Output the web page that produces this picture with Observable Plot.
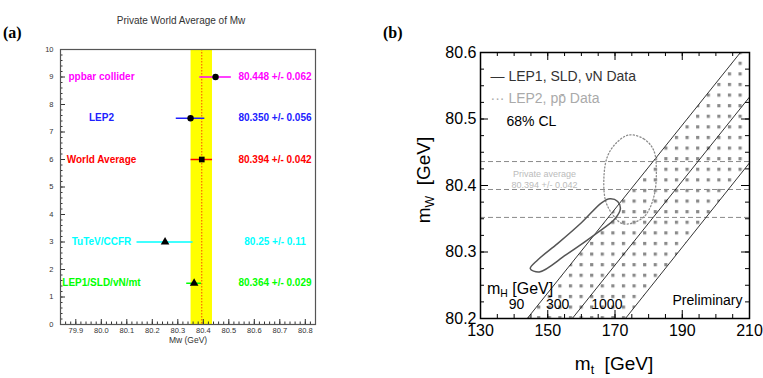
<!DOCTYPE html>
<html><head><meta charset="utf-8">
<script src="https://cdn.jsdelivr.net/npm/d3@7"></script>
<script src="https://cdn.jsdelivr.net/npm/@observablehq/plot@0.6"></script>
<style>
body{margin:0;background:#fff;}
#wrap{position:relative;width:763px;height:378px;overflow:hidden;font-family:"Liberation Sans",Arial,sans-serif;}
#wrap svg{position:absolute;top:0;}
.abs{position:absolute;white-space:nowrap;line-height:1;}
.pl{font-family:"Liberation Serif","Times New Roman",serif;font-weight:bold;font-size:16px;color:#000;}
.sub{font-size:0.65em;position:relative;top:0.3em;}
</style></head><body><div id="wrap"></div>
<script>
// ---------------- Panel (a): Private World Average of Mw ----------------
const aNames   = ["ppbar collider", "LEP2", "World Average", "TuTeV/CCFR", "LEP1/SLD/vN/mt"];
const aRows    = [9, 7.5, 6, 3, 1.5];
const aMw      = [80.448, 80.350, 80.394, 80.25, 80.364];
const aErr     = [0.062, 0.056, 0.042, 0.11, 0.029];
const aValText = ["80.448 +/- 0.062", "80.350 +/- 0.056", "80.394 +/- 0.042", "80.25 +/- 0.11", "80.364 +/- 0.029"];
const aColors  = ["#ff00ff", "#2020ff", "#ff0000", "#00ffff", "#00ff00"];
const aSymbols = ["circle", "circle", "square", "triangle", "triangle"];
const avgMw = 80.394, avgErr = 0.042;
const aTicksX = [79.9, 80, 80.1, 80.2, 80.3, 80.4, 80.5, 80.6, 80.7, 80.8];
const aTicksY = [0, 1, 2, 3, 4, 5, 6, 7, 8, 9, 10];

// ---------------- Panel (b): mW vs mt ----------------
const higgsLabels = ["90", "300", "1000"];
const higgsMt1 = [143.9, 157.3, 173.1];
const higgsMw1 = [80.2, 80.2, 80.2];
const higgsMt2 = [207.3, 210, 210];
const higgsMw2 = [80.6, 80.533, 80.434];
// SM band (mH 90..1000) corners inside the frame
const bandMt = [143.9, 207.3, 210, 210, 173.1];
const bandMw = [80.2, 80.6, 80.6, 80.434, 80.2];
// LEP1, SLD, vN 68% CL contour (solid)
const solidMt = [144.8, 147.5, 155.5, 164.5, 170.0, 171.6, 170.8, 168.5, 166.0, 160.0, 153.0, 147.0];
const solidMw = [80.275, 80.270, 80.296, 80.328, 80.350, 80.365, 80.376, 80.380, 80.374, 80.344, 80.313, 80.288];
// LEP2, ppbar 68% CL contour (dotted)
const dotMt = [174.1, 178.6, 181.5, 182.3, 181.5, 179.0, 175.5, 172.0, 169.2, 167.2, 166.7, 167.7, 170.2];
const dotMw = [80.476, 80.470, 80.453, 80.420, 80.382, 80.355, 80.344, 80.343, 80.357, 80.377, 80.412, 80.443, 80.463];
// Private average lines
const avgLines = [80.436, 80.394, 80.352];
const bTicksX = [130, 150, 170, 190, 210];
const bTicksY = [80.2, 80.3, 80.4, 80.5, 80.6];

const wrap = document.getElementById("wrap");
const font = "Liberation Sans, Arial, sans-serif";

// inward tick helpers (frame-relative insets)
function ticksBottom(vals, len, fh, color) { return Plot.ruleX(vals, {x: d => d, insetTop: fh - len, stroke: color, strokeWidth: 1}); }
function ticksTop(vals, len, fh, color) { return Plot.ruleX(vals, {x: d => d, insetBottom: fh - len, stroke: color, strokeWidth: 1}); }
function ticksLeft(vals, len, fw, color) { return Plot.ruleY(vals, {y: d => d, insetRight: fw - len, stroke: color, strokeWidth: 1}); }
function ticksRight(vals, len, fw, color) { return Plot.ruleY(vals, {y: d => d, insetLeft: fw - len, stroke: color, strokeWidth: 1}); }

// ---- build panel (a)
const aData = aNames.map((name, i) => ({name, row: aRows[i], mw: aMw[i], err: aErr[i], val: aValText[i], color: aColors[i], symbol: aSymbols[i]}));
const aMinorX = d3.range(79.84, 80.841, 0.02).map(v => +v.toFixed(2));
const aMinorY = d3.range(0, 10.001, 0.2).map(v => +v.toFixed(1));
const aFW = 255, aFH = 275;

const plotA = Plot.plot({
  width: 380, height: 378,
  marginLeft: 60, marginRight: 65, marginTop: 49, marginBottom: 54,
  x: {domain: [79.84, 80.84]},
  y: {domain: [0, 10]},
  color: {type: "identity"},
  style: {fontFamily: font, background: "transparent", overflow: "visible"},
  marks: [
    Plot.rect([{mw: avgMw, err: avgErr}], {x1: d => d.mw - d.err, x2: d => d.mw + d.err, fill: "#ffff00"}),
    Plot.ruleX([avgMw], {stroke: "#ff3300", strokeDasharray: "1.5,1.5", strokeWidth: 0.9}),
    Plot.ruleY(aData, {y: "row", x1: d => d.mw - d.err, x2: d => d.mw + d.err, stroke: "color", strokeWidth: 1.5}),
    Plot.dot(aData, {x: "mw", y: "row", symbol: "symbol", fill: "#000", stroke: "none", r: 3.2}),
    Plot.text(aData, {y: "row", text: "name", fill: "color", frameAnchor: "left", textAnchor: "middle", dx: 41, fontWeight: "bold", fontSize: 10}),
    Plot.text(aData, {y: "row", text: "val", fill: "color", frameAnchor: "right", textAnchor: "middle", dx: -40.5, fontWeight: "bold", fontSize: 10}),
    Plot.axisX({ticks: aTicksX, tickSize: 0, tickPadding: 3, fontSize: 7.5, fill: "#333", label: null}),
    Plot.axisY({ticks: aTicksY, tickSize: 0, tickPadding: 7, fontSize: 7.5, fill: "#333", label: null}),
    ticksBottom(aMinorX, 2.5, aFH, "#333"),
    ticksBottom(aTicksX, 5, aFH, "#333"),
    ticksLeft(aMinorY, 2.5, aFW, "#333"),
    ticksLeft(aTicksY, 5, aFW, "#333"),
    Plot.text(["Mw (GeV)"], {text: d => d, frameAnchor: "bottom", dy: 18, fontSize: 8.5, fill: "#333"}),
    Plot.frame({stroke: "#555", strokeWidth: 1.2})
  ]
});
plotA.style.left = "0px";
wrap.appendChild(plotA);

// ---- build panel (b)
const higgs = higgsLabels.map((label, i) => ({label, mt1: higgsMt1[i], mw1: higgsMw1[i], mt2: higgsMt2[i], mw2: higgsMw2[i]}));
const band = bandMt.map((mt, i) => ({mt, mw: bandMw[i]}));
const solid = solidMt.map((mt, i) => ({mt, mw: solidMw[i]}));
const dotted = dotMt.map((mt, i) => ({mt, mw: dotMw[i]}));
const bMinorX = d3.range(130, 210.1, 5);
const bMinorY = d3.range(80.2, 80.601, 0.025).map(v => +v.toFixed(3));
const bFW = 269, bFH = 266;

const plotB = Plot.plot({
  width: 383, height: 378,
  marginLeft: 100, marginRight: 14, marginTop: 52, marginBottom: 60,
  x: {domain: [130, 210]},
  y: {domain: [80.2, 80.6]},
  style: {fontFamily: font, background: "transparent", overflow: "visible"},
  marks: [
    Plot.line(band, {x: "mt", y: "mw", fill: "url(#dotpat)", stroke: "none"}),
    Plot.ruleY(avgLines, {stroke: "#8a8a8a", strokeDasharray: "5,3", strokeWidth: 1}),
    Plot.link(higgs, {x1: "mt1", y1: "mw1", x2: "mt2", y2: "mw2", stroke: "#000", strokeWidth: 0.8}),
    Plot.line(dotted, {x: "mt", y: "mw", curve: "catmull-rom-closed", stroke: "#8c8c8c", strokeDasharray: "1.2,2.2", strokeWidth: 1.3}),
    Plot.line(solid, {x: "mt", y: "mw", curve: "catmull-rom-closed", stroke: "#555", strokeWidth: 1.5}),
    Plot.text(higgs, {x: "mt1", y: "mw1", text: "label", textAnchor: "end", dx: -3, dy: -14, fontSize: 14, fill: "#000"}),
    Plot.text(["— LEP1, SLD, νN Data"], {text: d => d, frameAnchor: "top-left", dx: 10, dy: 19, textAnchor: "start", fontSize: 14, fill: "#333"}),
    Plot.text(["··· LEP2, pp̄ Data"], {text: d => d, frameAnchor: "top-left", dx: 10, dy: 41, textAnchor: "start", fontSize: 14, fill: "#aaa"}),
    Plot.text(["68% CL"], {text: d => d, frameAnchor: "top-left", dx: 26, dy: 64, textAnchor: "start", fontSize: 14, fill: "#000"}),
    Plot.text(["Private average"], {text: d => d, frameAnchor: "top-left", dx: 64, dy: 118, textAnchor: "middle", fontSize: 9, fill: "#bbb"}),
    Plot.text(["80.394 +/- 0.042"], {text: d => d, frameAnchor: "top-left", dx: 64, dy: 129, textAnchor: "middle", fontSize: 9, fill: "#bbb"}),
    Plot.text(["Preliminary"], {text: d => d, frameAnchor: "bottom-right", dx: -7, dy: -14, textAnchor: "end", fontSize: 14, fill: "#000"}),
    Plot.axisX({ticks: bTicksX, tickSize: 0, tickPadding: 6, fontSize: 16, fill: "#000", label: null}),
    Plot.axisY({ticks: bTicksY, tickSize: 0, tickPadding: 4, fontSize: 16, fill: "#000", label: null, tickFormat: d3.format(".1f")}),
    ticksBottom(bMinorX, 4, bFH, "#000"),
    ticksBottom(bTicksX, 8, bFH, "#000"),
    ticksTop(bMinorX, 4, bFH, "#000"),
    ticksTop(bTicksX, 8, bFH, "#000"),
    ticksLeft(bMinorY, 4, bFW, "#000"),
    ticksLeft(bTicksY, 8, bFW, "#000"),
    ticksRight(bMinorY, 4, bFW, "#000"),
    ticksRight(bTicksY, 8, bFW, "#000"),
    Plot.frame({stroke: "#000", strokeWidth: 1.5})
  ]
});
plotB.style.left = "380px";
// dotted shading pattern
const ns = "http://www.w3.org/2000/svg";
const defs = document.createElementNS(ns, "defs");
const pat = document.createElementNS(ns, "pattern");
pat.setAttribute("id", "dotpat");
pat.setAttribute("patternUnits", "userSpaceOnUse");
pat.setAttribute("x", "252");
pat.setAttribute("y", "305");
pat.setAttribute("width", "10.6");
pat.setAttribute("height", "10.6");
const sq = document.createElementNS(ns, "rect");
sq.setAttribute("x", "0"); sq.setAttribute("y", "0");
sq.setAttribute("width", "3.2"); sq.setAttribute("height", "3.2");
sq.setAttribute("fill", "#8a8a8a");
pat.appendChild(sq);
defs.appendChild(pat);
plotB.insertBefore(defs, plotB.firstChild);
wrap.appendChild(plotB);

// ---- HTML labels
function addLabel(html, css, cls) {
  const d = document.createElement("div");
  d.className = "abs" + (cls ? " " + cls : "");
  d.innerHTML = html;
  Object.assign(d.style, css);
  wrap.appendChild(d);
  return d;
}
addLabel("(a)", {left: "3px", top: "25px"}, "pl");
addLabel("(b)", {left: "383px", top: "25px"}, "pl");
addLabel("Private World Average of Mw", {left: "181px", top: "16px", transform: "translateX(-50%)", fontSize: "10px", color: "#333"});
addLabel("m<span class='sub'>W</span>&nbsp;&nbsp;[GeV]", {left: "423px", top: "180px", transform: "translate(-50%,-50%) rotate(-90deg)", fontSize: "19px", color: "#000"});
addLabel("m<span class='sub'>t</span>&nbsp;&nbsp;[GeV]", {left: "614px", top: "354px", transform: "translateX(-50%)", fontSize: "19px", color: "#000"});
addLabel("m<span class='sub'>H</span> [GeV]", {left: "487px", top: "281px", fontSize: "16px", color: "#000"});
</script></body></html>
